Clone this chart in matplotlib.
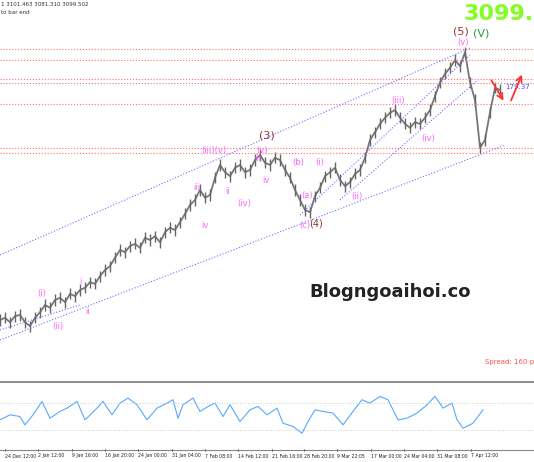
import matplotlib
matplotlib.use('Agg')
import matplotlib.pyplot as plt

# price closes, one per 5 time units
closes = [2574, 2578, 2570, 2581, 2583, 2570, 2563, 2578, 2588, 2601, 2596, 2610, 2614, 2606, 2621,
          2617, 2628, 2632, 2642, 2639, 2653, 2664, 2671, 2686, 2700, 2696, 2707, 2711, 2704, 2722,
          2718, 2725, 2714, 2732, 2740, 2736, 2750, 2765, 2781, 2790, 2808, 2794, 2799, 2830, 2853,
          2840, 2833, 2848, 2853, 2840, 2844, 2862, 2871, 2857, 2853, 2866, 2862, 2844, 2830, 2808,
          2790, 2772, 2768, 2797, 2812, 2833, 2840, 2848, 2826, 2815, 2822, 2837, 2844, 2866, 2898,
          2912, 2927, 2938, 2947, 2952, 2938, 2927, 2920, 2930, 2927, 2938, 2952, 2977, 3002, 3017,
          3028, 3042, 3031, 3056, 3002, 2970, 2884, 2898, 2948, 2992, 2988]
osc_x = [0, 10, 20, 25, 33, 42, 50, 60, 67, 77, 85, 97, 103, 112, 120, 128, 137, 147, 157, 167, 173,
         178, 183, 193, 200, 208, 215, 223, 230, 240, 250, 258, 267, 277, 283, 293, 302, 308, 315,
         323, 333, 343, 353, 362, 370, 380, 388, 398, 407, 417, 427, 435, 443, 452, 457, 463, 473, 483]
osc = [45, 52.5, 50, 37.5, 52.5, 72.5, 47.5, 57.5, 62.5, 72.5, 45, 62.5, 72.5, 52.5, 70, 77.5, 67.5,
       45, 62.5, 70, 75, 47.5, 67.5, 77.5, 57.5, 65, 70, 50, 67.5, 42.5, 60, 65, 52.5, 62.5, 40, 35,
       25, 42.5, 60, 57.5, 55, 37.5, 57.5, 75, 70, 80, 75, 45, 47.5, 55, 67.5, 80, 62.5, 70, 45, 32.5,
       40, 60]
levels = [3062, 3042, 3008, 3001, 2963, 2884, 2875]
tick_pos = [5, 38, 72, 105, 138, 172, 205, 238, 272, 304, 337, 371, 404, 437, 471]
tick_labels = ['24 Dec 12:00', '2 Jan 12:00', '9 Jan 16:00', '16 Jan 20:00', '24 Jan 00:00',
               '31 Jan 04:00', '7 Feb 08:00', '14 Feb 12:00', '21 Feb 16:00', '28 Feb 20:00',
               '9 Mar 22:05', '17 Mar 00:00', '24 Mar 04:00', '31 Mar 08:00', '7 Apr 12:00']


def p(py):
    # pixel row -> price
    return 3150 - 1.8 * py


fig = plt.figure(figsize=(5.34, 4.62), dpi=100)
ax = fig.add_axes([0, 1 - 382 / 462, 1, 382 / 462])
ax2 = fig.add_axes([0, 12 / 462, 1, 67 / 462])
for a in (ax, ax2):
    a.set_xlim(0, 534)
    a.set_xticks([])
    a.set_yticks([])
ax.set_ylim(p(382), p(0))
ax2.set_ylim(0, 100)
for s in ax.spines.values():
    s.set_visible(False)
ax.spines['bottom'].set_visible(True)
ax.spines['bottom'].set_color('#888888')
ax.spines['bottom'].set_linewidth(2)
for s in ax2.spines.values():
    s.set_visible(False)
ax2.spines['bottom'].set_visible(True)
ax2.spines['bottom'].set_color('#888888')

xs = [i * 5 for i in range(len(closes))]
ax.plot(xs, closes, color='#777777', lw=1.3)
ax.vlines(xs, [c - 10 for c in closes], [c + 10 for c in closes], color='#666666', lw=1.0)

for lv in levels:
    ax.axhline(lv, color='#ff7070', ls=':', lw=0.8)

channels = [((0, 255), (470, 48)), ((0, 340), (505, 145)), ((300, 215), (470, 55)),
            ((340, 200), (478, 80)), ((0, 330), (80, 305))]
for (x1, y1), (x2, y2) in channels:
    ax.plot([x1, x2], [p(y1), p(y2)], color='#7070ff', ls=':', lw=0.8)

waves = [('(5)', 461, 31, '#993333', 8), ('(V)', 481, 34, '#339933', 8), ('(v)', 463, 42, '#ff66ff', 6),
         ('(3)', 267, 135, '#993333', 8), ('(4)', 316, 223, '#993333', 7), ('(iii)', 398, 100, '#ff66ff', 6),
         ('(iv)', 428, 138, '#ff66ff', 6), ('(iii)(v)', 214, 150, '#ff66ff', 6), ('(v)', 262, 150, '#ff66ff', 6),
         ('iii', 258, 158, '#ff66ff', 6), ('(i)', 320, 162, '#ff66ff', 6), ('(ii)', 357, 197, '#ff66ff', 6),
         ('(a)', 307, 195, '#ff66ff', 6), ('(c)', 305, 225, '#ff66ff', 6), ('iii', 197, 187, '#ff66ff', 6),
         ('iv', 205, 225, '#ff66ff', 6), ('(iv)', 244, 203, '#ff66ff', 6), ('iv', 266, 180, '#ff66ff', 6),
         ('ii', 228, 192, '#ff66ff', 6), ('(i)', 42, 293, '#ff66ff', 6), ('(ii)', 58, 326, '#ff66ff', 6),
         ('i', 80, 282, '#ff66ff', 6), ('ii', 88, 312, '#ff66ff', 6), ('(b)', 298, 162, '#ff66ff', 6)]
for t, x, y, c, fs in waves:
    ax.text(x, p(y), t, color=c, fontsize=fs, ha='center', va='center')

ax.text(1, p(4), '1 3101.463 3081.310 3099.502', fontsize=4, va='center', color='#333333')
ax.text(1, p(12), 'to bar end', fontsize=4, va='center', color='#333333')
ax.text(534, p(14), '3099.', fontsize=16, fontweight='bold', color='#80ff20', ha='right', va='center')
ax.text(390, p(292), 'Blogngoaihoi.co', fontsize=13, fontweight='bold', color='#222222',
        ha='center', va='center')
ax.text(534, p(362), 'Spread: 160 p', fontsize=5, color='#ff5050', ha='right', va='center')
ax.text(505, p(87), '179.37', fontsize=5, color='#5050ff', va='center')
ax.annotate('', xy=(505, p(103)), xytext=(490, p(78)),
            arrowprops=dict(arrowstyle='->', color='#ff3030', lw=1.3))
ax.annotate('', xy=(523, p(72)), xytext=(510, p(103)),
            arrowprops=dict(arrowstyle='->', color='#ff3030', lw=1.3))

ax2.plot(osc_x, osc, color='#55aaff', lw=0.8)
for lv in (70, 30):
    ax2.axhline(lv, color='#cccccc', ls=':', lw=0.7)
for x, lab in zip(tick_pos, tick_labels):
    fig.text(x / 534, 6 / 462, lab, fontsize=3.3, va='center', color='#222222')
    fig.lines.append(plt.Line2D([x / 534, x / 534], [11 / 462, 13 / 462], color='#555555',
                                lw=0.5, transform=fig.transFigure))

fig.savefig('out.png', dpi=100)
